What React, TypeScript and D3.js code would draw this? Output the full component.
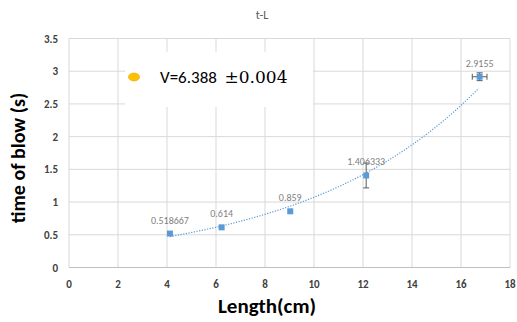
import React from "react";
import * as d3 from "d3";

const lengths = [4.12, 6.23, 9.03, 12.13, 16.76];
const times = [0.518667, 0.614, 0.859, 1.406333, 2.9155];
const labels = ["0.518667", "0.614", "0.859", "1.406333", "2.9155"];
const yErr = [0, 0, 0, 0.19, 0.06];
const xErr = [0, 0, 0, 0, 0.3];
const xTicks = [0, 2, 4, 6, 8, 10, 12, 14, 16, 18];
const yTicks = [0, 0.5, 1, 1.5, 2, 2.5, 3, 3.5];

const W = 517;
const H = 322;

export default function App() {
  const x = d3.scaleLinear().domain([0, 18]).range([69, 510]);
  const y = d3.scaleLinear().domain([0, 3.5]).range([267.5, 38.5]);

  // exponential trendline fit (least squares on ln y)
  const lx = lengths;
  const ly = times.map((t) => Math.log(t));
  const mx = d3.mean(lx) as number;
  const my = d3.mean(ly) as number;
  const b =
    d3.sum(lx.map((v, i) => (v - mx) * (ly[i] - my))) /
    d3.sum(lx.map((v) => (v - mx) * (v - mx)));
  const a = Math.exp(my - b * mx);
  const xs = d3.range(lengths[0], lengths[lengths.length - 1] + 0.001, 0.1);
  const line = d3
    .line<number>()
    .x((v) => x(v))
    .y((v) => y(a * Math.exp(b * v)));

  const font = "Calibri, Carlito, 'Open Sans', 'Liberation Sans', sans-serif";

  return (
    <svg width={W} height={H} style={{ position: "absolute", left: 0, top: 0 }} fontFamily={font}>
      <rect x={0} y={0} width={W} height={H} fill="#fff" />
      <text x={262} y={19} textAnchor="middle" fontSize={12} fill="#595959">
        t-L
      </text>
      {/* grid */}
      {xTicks.map((t) => (
        <line key={"gx" + t} x1={x(t)} x2={x(t)} y1={y(3.5)} y2={y(0)} stroke="#d9d9d9" strokeWidth={1} />
      ))}
      {yTicks.map((t) => (
        <line key={"gy" + t} x1={x(0)} x2={x(18)} y1={y(t)} y2={y(t)} stroke="#d9d9d9" strokeWidth={1} />
      ))}
      <line x1={x(0)} x2={x(18)} y1={y(0)} y2={y(0)} stroke="#bfbfbf" strokeWidth={1} />
      {/* tick labels */}
      {yTicks.map((t) => (
        <text key={"ty" + t} x={58} y={y(t) + 4} textAnchor="end" fontSize={11} fontWeight="bold" fill="#404040">
          {t}
        </text>
      ))}
      {xTicks.map((t) => (
        <text key={"tx" + t} x={x(t)} y={288} textAnchor="middle" fontSize={11} fontWeight="bold" fill="#404040">
          {t}
        </text>
      ))}
      {/* axis titles */}
      <text
        transform={`translate(25,158) rotate(-90)`}
        textAnchor="middle"
        fontSize={20}
        fontWeight="bold"
        fill="#000"
      >
        time of blow (s)
      </text>
      <text x={267} y={313} textAnchor="middle" fontSize={21} fontWeight="bold" fill="#000">
        Length(cm)
      </text>
      {/* legend box */}
      <rect x={125} y={52} width={188} height={55} fill="#fff" />
      <ellipse cx={134} cy={77} rx={5.5} ry={4} fill="#FFC000" stroke="#E0A800" strokeWidth={0.6} />
      <text x={160} y={83} fontSize={17} fill="#000">
        V=6.388{"\u00a0 "}
        <tspan fontFamily="'DejaVu Serif', 'Liberation Serif', serif">±0.004</tspan>
      </text>
      {/* trendline */}
      <path d={line(xs) || ""} fill="none" stroke="#5B9BD5" strokeWidth={1.2} strokeDasharray="1.2,1.5" />
      {/* error bars */}
      {lengths.map((l, i) => (
        <g key={"e" + i} stroke="#595959" strokeWidth={1}>
          {yErr[i] > 0 && (
            <>
              <line x1={x(l)} x2={x(l)} y1={y(times[i] - yErr[i])} y2={y(times[i] + yErr[i])} />
              <line x1={x(l) - 3} x2={x(l) + 3} y1={y(times[i] - yErr[i])} y2={y(times[i] - yErr[i])} />
              <line x1={x(l) - 3} x2={x(l) + 3} y1={y(times[i] + yErr[i])} y2={y(times[i] + yErr[i])} />
            </>
          )}
          {xErr[i] > 0 && (
            <>
              <line x1={x(l - xErr[i])} x2={x(l + xErr[i])} y1={y(times[i])} y2={y(times[i])} />
              <line x1={x(l - xErr[i])} x2={x(l - xErr[i])} y1={y(times[i]) - 3} y2={y(times[i]) + 3} />
              <line x1={x(l + xErr[i])} x2={x(l + xErr[i])} y1={y(times[i]) - 3} y2={y(times[i]) + 3} />
            </>
          )}
        </g>
      ))}
      {/* markers */}
      {lengths.map((l, i) => (
        <rect key={"m" + i} x={x(l) - 3} y={y(times[i]) - 3} width={6} height={6} fill="#5B9BD5" />
      ))}
      {/* data labels */}
      {lengths.map((l, i) => (
        <text key={"l" + i} x={x(l)} y={y(times[i]) - 10} textAnchor="middle" fontSize={10} fill="#7f7f7f">
          {labels[i]}
        </text>
      ))}
    </svg>
  );
}
